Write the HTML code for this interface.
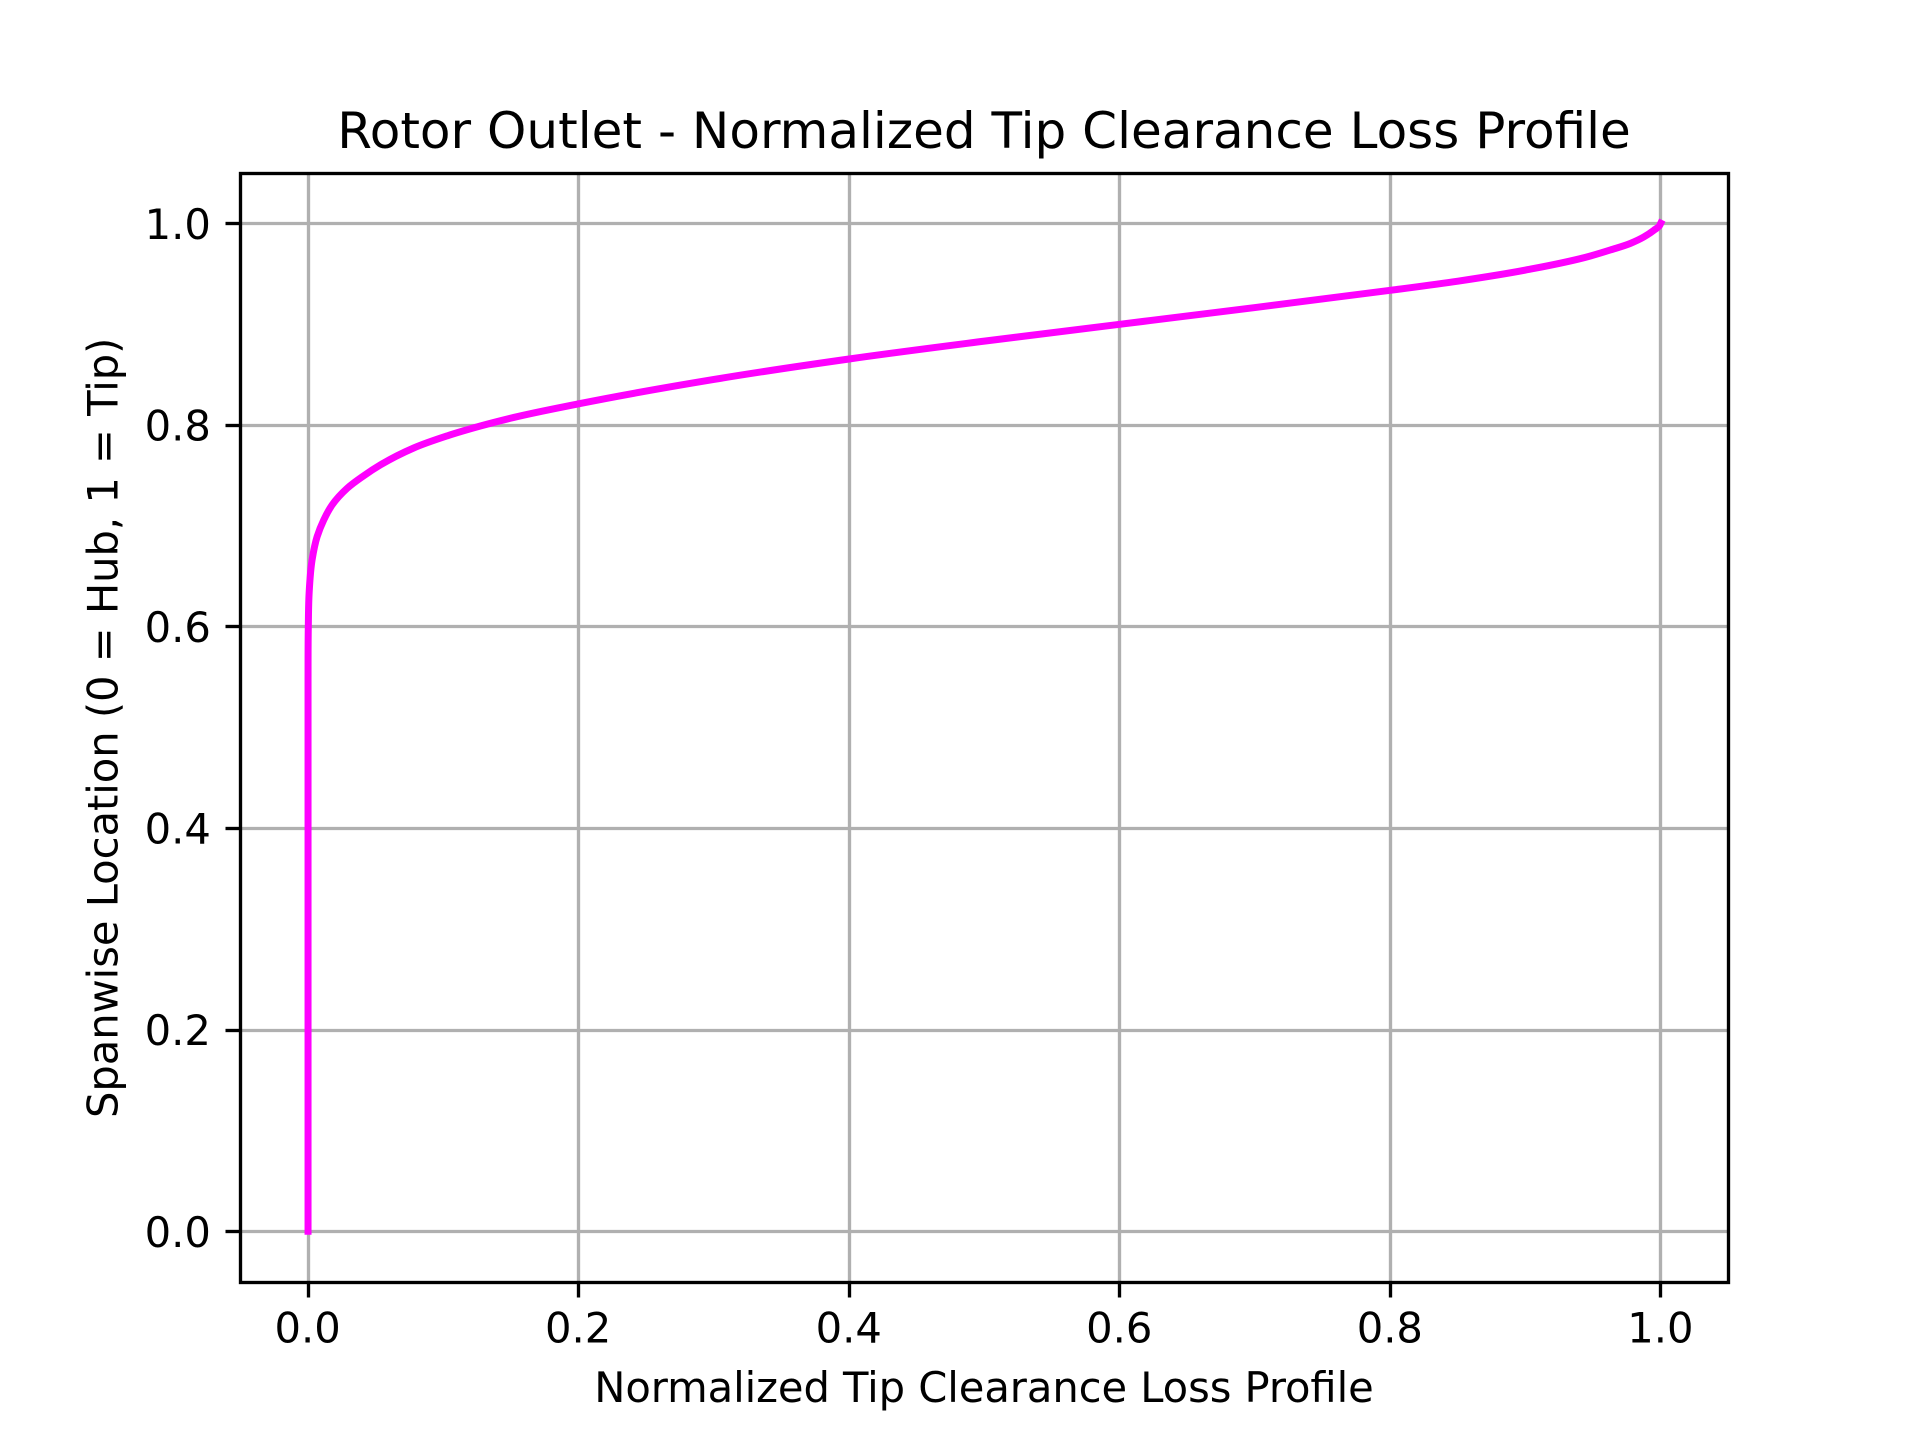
<!DOCTYPE html>
<html lang="en">
<head>
<meta charset="utf-8">
<title>Rotor Outlet - Normalized Tip Clearance Loss Profile</title>
<style>
  html, body { margin: 0; padding: 0; background: #ffffff; }
  body { width: 1920px; height: 1440px; overflow: hidden; }
  svg { display: block; }
  text { font-family: "DejaVu Sans", "Liberation Sans", sans-serif; fill: #000000; }
</style>
</head>
<body>
<svg id="chart" xmlns="http://www.w3.org/2000/svg" width="1920" height="1440" viewBox="0 0 1920 1440">
  <rect x="0" y="0" width="1920" height="1440" fill="#ffffff"/>
  <rect x="240" y="172.8" width="1488" height="1108.8" fill="#ffffff"/>
  <g id="grid"></g>
  <path id="curve" transform="translate(0.4 0)" fill="none" stroke="#ff00ff" stroke-width="7" stroke-linecap="square" stroke-linejoin="round"/>
  <g id="ticks"></g>
  <rect x="240.5" y="173.5" width="1488" height="1109" fill="none" stroke="#000000" stroke-width="3.33"/>
  <text x="984" y="147.8" font-size="50" text-anchor="middle" textLength="1293.6" lengthAdjust="spacing">Rotor Outlet - Normalized Tip Clearance Loss Profile</text>
  <text x="984" y="1402" font-size="41.67" text-anchor="middle" textLength="779.5" lengthAdjust="spacing">Normalized Tip Clearance Loss Profile</text>
  <text transform="translate(117.5 727.8) rotate(-90)" x="0" y="0" font-size="41.67" text-anchor="middle" textLength="780.5" lengthAdjust="spacing">Spanwise Location (0 = Hub, 1 = Tip)</text>
</svg>
<script>
const xTickValues = [0, 0.2, 0.4, 0.6, 0.8, 1];
const yTickValues = [0, 0.2, 0.4, 0.6, 0.8, 1];
const xTickLabels = ["0.0", "0.2", "0.4", "0.6", "0.8", "1.0"];
const yTickLabels = ["0.0", "0.2", "0.4", "0.6", "0.8", "1.0"];
const lossValues = [0, 0, 0, 0, 0, 0.0002, 0.0008, 0.003, 0.0067, 0.0116, 0.0178, 0.0289, 0.0412, 0.0535, 0.0781, 0.1028, 0.1274, 0.1521, 0.2, 0.3, 0.4, 0.5, 0.6, 0.7, 0.8, 0.85, 0.9, 0.948, 0.9628, 0.9776, 0.9874, 0.9948, 0.9992, 1];
const spanValues = [0, 0.2, 0.4, 0.5, 0.547, 0.6, 0.633, 0.666, 0.689, 0.7056, 0.7205, 0.737, 0.7495, 0.7602, 0.777, 0.789, 0.7988, 0.8073, 0.8208, 0.845, 0.8653, 0.883, 0.8997, 0.9163, 0.9334, 0.9425, 0.9535, 0.9675, 0.9735, 0.98, 0.9863, 0.9929, 0.9978, 1];

const SVG_NS = "http://www.w3.org/2000/svg";
const plotLeft = 240, plotRight = 1728, plotTop = 172.8, plotBottom = 1281.6;
const xMin = -0.05, xMax = 1.05, yMin = -0.05, yMax = 1.05;
function xScale(v) { return plotLeft + (v - xMin) / (xMax - xMin) * (plotRight - plotLeft); }
function yScale(v) { return plotBottom - (v - yMin) / (yMax - yMin) * (plotBottom - plotTop); }
function snap(p) { return Math.floor(p + 0.5) + 0.5; }

function makeLine(parent, x1, y1, x2, y2, color) {
  const l = document.createElementNS(SVG_NS, "line");
  l.setAttribute("x1", x1);
  l.setAttribute("y1", y1);
  l.setAttribute("x2", x2);
  l.setAttribute("y2", y2);
  l.setAttribute("stroke", color);
  l.setAttribute("stroke-width", "3.33");
  parent.appendChild(l);
  return l;
}
function makeLabel(parent, x, y, anchor, content) {
  const t = document.createElementNS(SVG_NS, "text");
  t.setAttribute("x", x);
  t.setAttribute("y", y);
  t.setAttribute("font-size", "41.67");
  t.setAttribute("text-anchor", anchor);
  t.textContent = content;
  parent.appendChild(t);
  return t;
}

const gridGroup = document.getElementById("grid");
const tickGroup = document.getElementById("ticks");

xTickValues.forEach(function (v, i) {
  const x = snap(xScale(v));
  const g = makeLine(gridGroup, x, snap(plotTop), x, snap(plotBottom), "#b0b0b0");
  
  
  const t = makeLine(tickGroup, x, snap(plotBottom), x, snap(plotBottom) + 15, "#000000");
  
  
  const lab = makeLabel(tickGroup, xScale(v), 1342.5, "middle", xTickLabels[i]);
  
  
});

yTickValues.forEach(function (v, i) {
  const y = snap(yScale(v));
  const g = makeLine(gridGroup, snap(plotLeft), y, snap(plotRight), y, "#b0b0b0");
  
  
  const t = makeLine(tickGroup, snap(plotLeft) - 15, y, snap(plotLeft), y, "#000000");
  
  
  const lab = makeLabel(tickGroup, plotLeft - 29.17, yScale(v) + 15.6, "end", yTickLabels[i]);
  
  
});

function smoothPath(px, py) {
  const n = px.length;
  const tx = [], ty = [], seg = [];
  for (let i = 0; i < n - 1; i++) {
    seg.push(Math.hypot(px[i + 1] - px[i], py[i + 1] - py[i]) || 1e-6);
  }
  for (let i = 0; i < n; i++) {
    if (i === 0 || i === n - 1) {
      const j = i === 0 ? 0 : n - 2;
      tx.push((px[j + 1] - px[j]) / seg[j]);
      ty.push((py[j + 1] - py[j]) / seg[j]);
    } else {
      const w1 = seg[i], w2 = seg[i - 1];
      const ax = (px[i] - px[i - 1]) / seg[i - 1], ay = (py[i] - py[i - 1]) / seg[i - 1];
      const bx = (px[i + 1] - px[i]) / seg[i], by = (py[i + 1] - py[i]) / seg[i];
      const mx = (ax * w1 + bx * w2) / (w1 + w2), my = (ay * w1 + by * w2) / (w1 + w2);
      const len = Math.hypot(mx, my) || 1e-6;
      tx.push(mx / len);
      ty.push(my / len);
    }
  }
  let d = "M" + px[0].toFixed(2) + " " + py[0].toFixed(2);
  for (let i = 0; i < n - 1; i++) {
    const h = seg[i] / 3;
    d += "C" + (px[i] + tx[i] * h).toFixed(2) + " " + (py[i] + ty[i] * h).toFixed(2) +
         " " + (px[i + 1] - tx[i + 1] * h).toFixed(2) + " " + (py[i + 1] - ty[i + 1] * h).toFixed(2) +
         " " + px[i + 1].toFixed(2) + " " + py[i + 1].toFixed(2);
  }
  return d;
}

document.getElementById("curve").setAttribute("d", smoothPath(lossValues.map(xScale), spanValues.map(yScale)));
</script>
</body>
</html>
